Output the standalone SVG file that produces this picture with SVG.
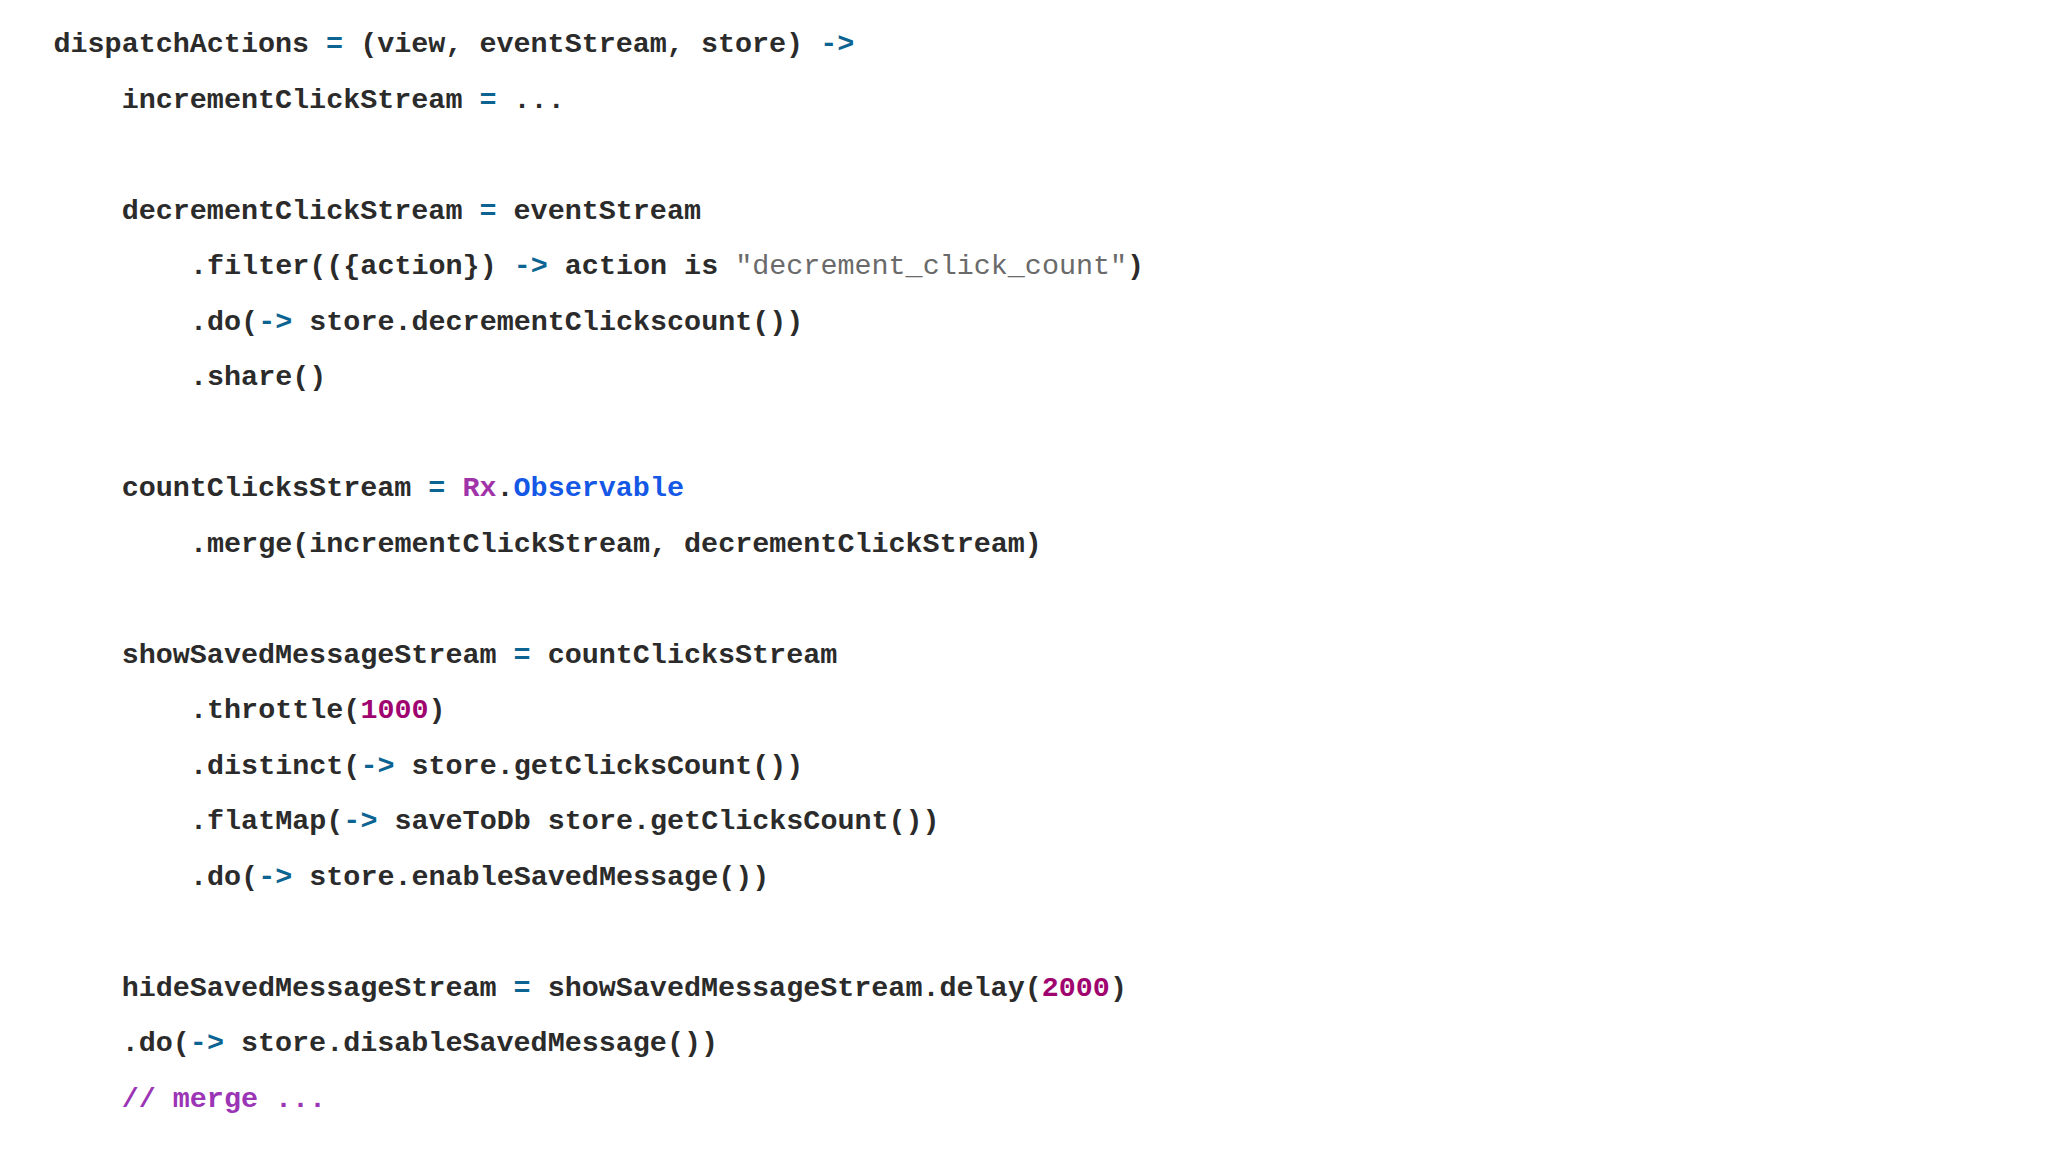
<svg xmlns="http://www.w3.org/2000/svg" width="2048" height="1152" viewBox="0 0 2048 1152">
<style>
text{font-family:"Liberation Mono","DejaVu Sans Mono",monospace;font-size:28.4px;fill:#2b2b2b;white-space:pre;font-weight:bold}
.o{fill:#0b6491}.s{fill:#6a6a6a;font-weight:normal}.rx{fill:#a133a8}.ob{fill:#1558e6}.n{fill:#a0046f}.c{fill:#9b35b5}
</style>
<rect width="2048" height="1152" fill="#ffffff"/>
<g id="code" xml:space="preserve">
<text x="53.5" y="52">dispatchActions <tspan class="o">=</tspan> (view, eventStream, store) <tspan class="o">-&gt;</tspan></text>
<text x="121.7" y="107.5">incrementClickStream <tspan class="o">=</tspan> ...</text>
<text x="121.7" y="218.5">decrementClickStream <tspan class="o">=</tspan> eventStream</text>
<text x="190" y="274">.filter(({action}) <tspan class="o">-&gt;</tspan> action is <tspan class="s">"decrement_click_count"</tspan>)</text>
<text x="190" y="329.5">.do(<tspan class="o">-&gt;</tspan> store.decrementClickscount())</text>
<text x="190" y="385">.share()</text>
<text x="121.7" y="496">countClicksStream <tspan class="o">=</tspan> <tspan class="rx">Rx</tspan>.<tspan class="ob">Observable</tspan></text>
<text x="190" y="551.5">.merge(incrementClickStream, decrementClickStream)</text>
<text x="121.7" y="662.5">showSavedMessageStream <tspan class="o">=</tspan> countClicksStream</text>
<text x="190" y="718">.throttle(<tspan class="n">1000</tspan>)</text>
<text x="190" y="773.5">.distinct(<tspan class="o">-&gt;</tspan> store.getClicksCount())</text>
<text x="190" y="829">.flatMap(<tspan class="o">-&gt;</tspan> saveToDb store.getClicksCount())</text>
<text x="190" y="884.5">.do(<tspan class="o">-&gt;</tspan> store.enableSavedMessage())</text>
<text x="121.7" y="995.5">hideSavedMessageStream <tspan class="o">=</tspan> showSavedMessageStream.delay(<tspan class="n">2000</tspan>)</text>
<text x="121.7" y="1051">.do(<tspan class="o">-&gt;</tspan> store.disableSavedMessage())</text>
<text x="121.7" y="1106.5" class="c">// merge ...</text>
</g>
</svg>
